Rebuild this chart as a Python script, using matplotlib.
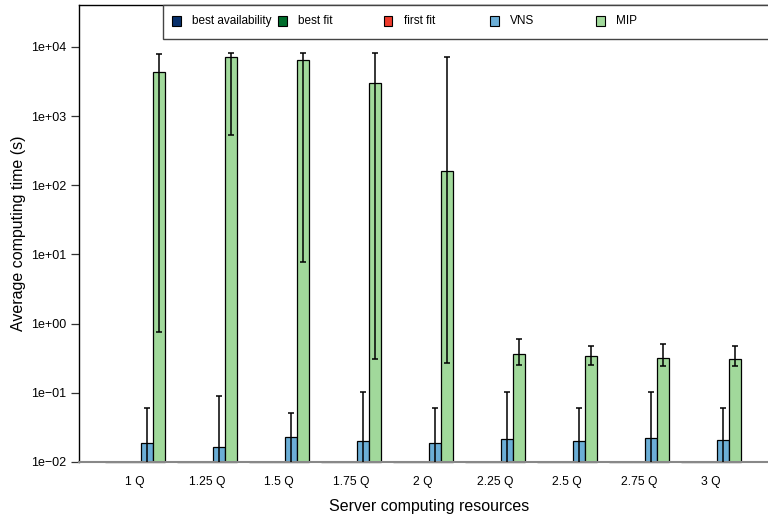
import matplotlib
matplotlib.use("Agg")
import matplotlib.pyplot as plt
from matplotlib.patches import Rectangle
import numpy as np

plt.rcParams['font.family'] = ['Liberation Sans', 'DejaVu Sans']

categories = ["1 Q", "1.25 Q", "1.5 Q", "1.75 Q", "2 Q", "2.25 Q", "2.5 Q", "2.75 Q", "3 Q"]
series = ["best availability", "best fit", "first fit", "VNS", "MIP"]
colors = ["#08306B", "#006D2C", "#EF3B2C", "#6BAED6", "#A1D99B"]

best_availability = [0.001, 0.001, 0.001, 0.001, 0.001, 0.001, 0.001, 0.001, 0.001]
best_fit = [0.001, 0.001, 0.001, 0.001, 0.001, 0.001, 0.001, 0.001, 0.001]
first_fit = [0.001, 0.001, 0.001, 0.001, 0.001, 0.001, 0.001, 0.001, 0.001]
vns_mean = [0.0186, 0.0165, 0.0228, 0.0199, 0.0188, 0.0217, 0.0199, 0.0220, 0.0208]
vns_hi = [0.0604, 0.091, 0.0506, 0.102, 0.0604, 0.102, 0.0604, 0.102, 0.0604]
vns_lo = [0.002, 0.002, 0.002, 0.002, 0.002, 0.002, 0.002, 0.002, 0.002]
mip_mean = [4350, 7250, 6490, 3010, 161, 0.364, 0.337, 0.319, 0.305]
mip_hi = [8000, 8100, 8200, 8100, 7160, 0.594, 0.475, 0.504, 0.475]
mip_lo = [0.76, 535, 7.8, 0.31, 0.27, 0.252, 0.252, 0.242, 0.242]

means = [best_availability, best_fit, first_fit, vns_mean, mip_mean]
errs = {3: (vns_lo, vns_hi), 4: (mip_lo, mip_hi)}

W, H = 768, 517
fig = plt.figure(figsize=(W / 100, H / 100), dpi=100)
ax = fig.add_axes([79 / W, (H - 462) / H, (779 - 79) / W, (462 - 5) / H])

ymin = 0.01
ax.set_yscale("log")
ax.set_ylim(ymin, 10 ** 4.607)
ax.set_xlim(-1.16, 57.16)

n = len(categories)
group_start = np.arange(n) * 6 + 1
for i, (vals, col) in enumerate(zip(means, colors)):
    x = group_start + i + 0.5
    tops = np.maximum(np.array(vals, dtype=float), ymin)
    ax.bar(x, tops - ymin, bottom=ymin, width=1.0, color=col,
           edgecolor="black", linewidth=0.9, zorder=2, clip_on=False)
    if i in errs:
        lo, hi = errs[i]
        v = np.array(vals)
        yerr = np.vstack([v - np.array(lo), np.array(hi) - v])
        ax.errorbar(x, v, yerr=yerr, fmt="none", ecolor="black",
                    elinewidth=1.1, capsize=2.5, capthick=1.1, zorder=3)

ax.set_xticks(group_start + 2.5)
ax.set_xticklabels(categories, fontsize=8.7)
ax.tick_params(axis="x", length=0, pad=10)

yt = [1e-2, 1e-1, 1e0, 1e1, 1e2, 1e3, 1e4]
ax.set_yticks(yt)
ax.set_yticklabels(["1e\u221202", "1e\u221201", "1e+00", "1e+01", "1e+02", "1e+03", "1e+04"], fontsize=9)
ax.yaxis.set_minor_locator(matplotlib.ticker.NullLocator())
ax.tick_params(axis="y", length=6, width=0.9, pad=3, color="#333333")

ax.spines["left"].set_linewidth(1.0)
ax.spines["top"].set_linewidth(1.0)
ax.spines["bottom"].set_color("#888888")
ax.spines["bottom"].set_linewidth(1.5)

ax.set_xlabel("Server computing resources", fontsize=11.5, labelpad=8)
ax.set_ylabel("Average computing time (s)", fontsize=11.5, labelpad=3.5)

# legend (drawn manually in figure pixel coordinates, R-style equal columns)
fig.patches.append(Rectangle((163 / W, (H - 39) / H), (800 - 163) / W, 34 / H,
                             transform=fig.transFigure, facecolor="white",
                             edgecolor="#444444", linewidth=1.0, zorder=5))
for i, (name, col) in enumerate(zip(series, colors)):
    cx = 176 + 106 * i
    fig.patches.append(Rectangle(((cx - 4.5) / W, (H - 25.5) / H), 9 / W, 9 / H,
                                 transform=fig.transFigure, facecolor=col,
                                 edgecolor="black", linewidth=0.8, zorder=6))
    fig.text((cx + 16) / W, (H - 21) / H, name, fontsize=8.5, va="center",
             ha="left", zorder=7)

fig.savefig("out.png", dpi=100)
